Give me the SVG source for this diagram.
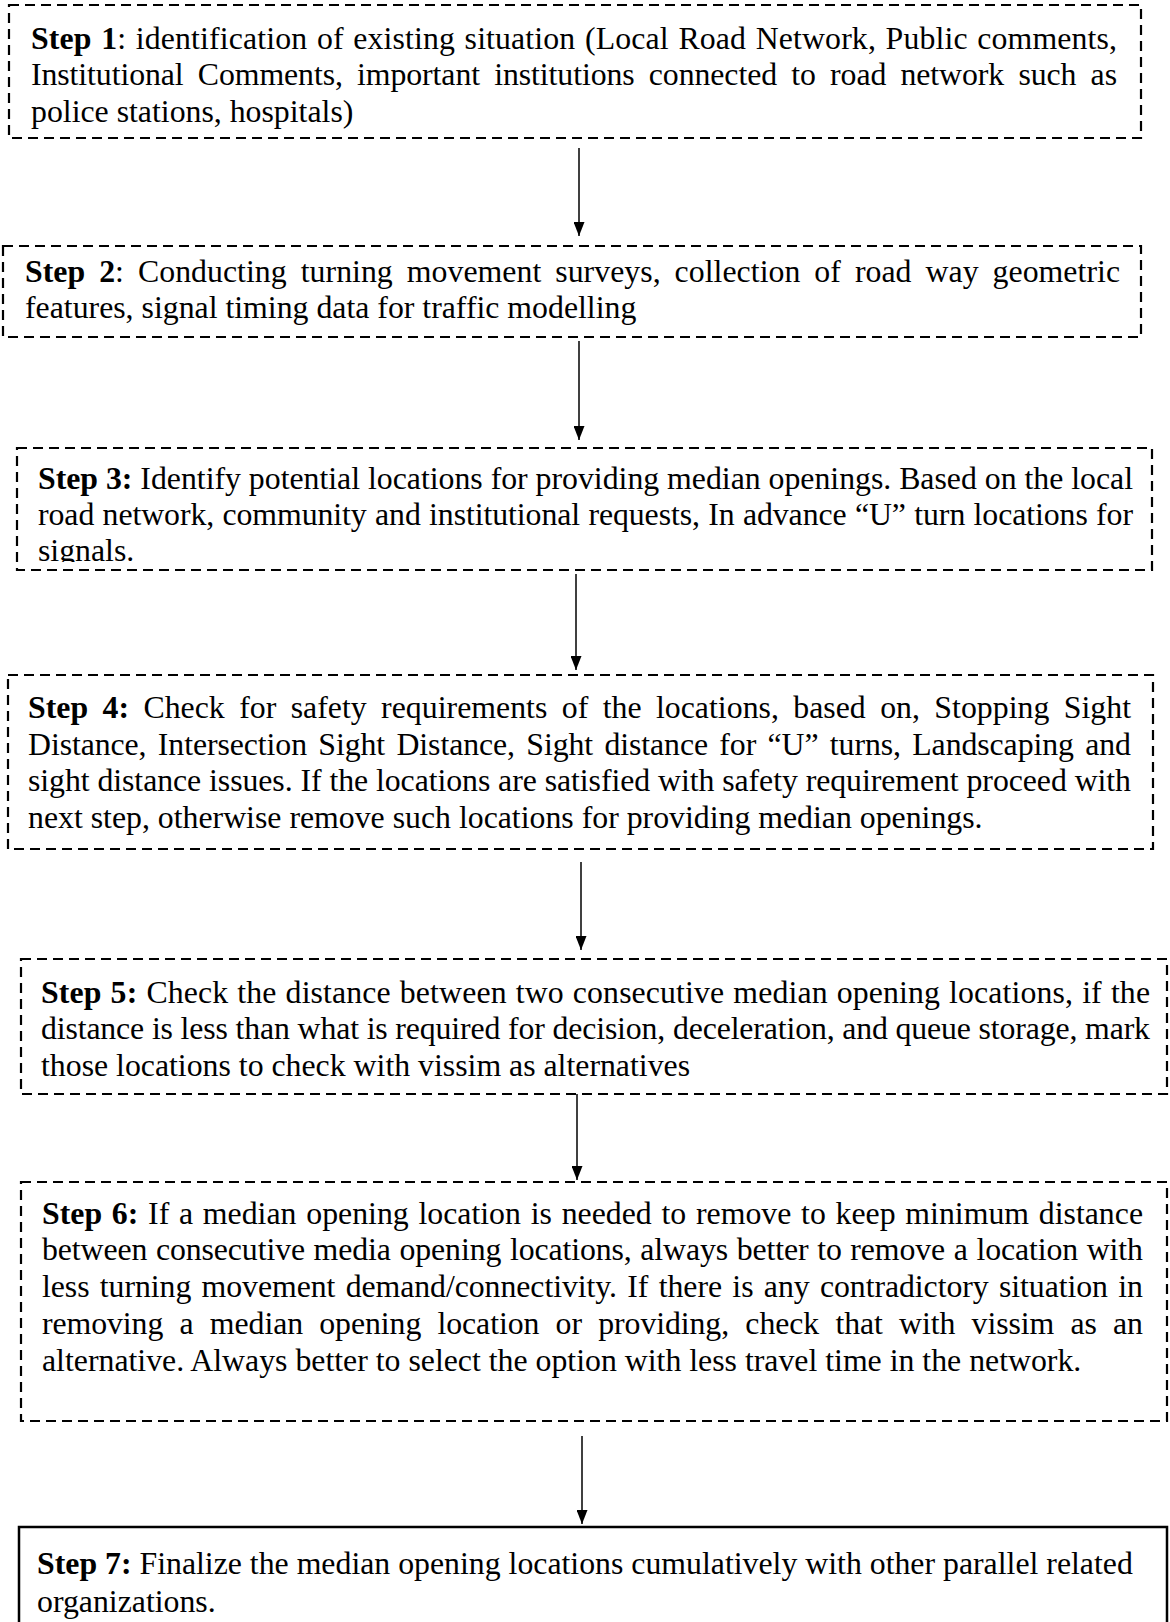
<svg xmlns="http://www.w3.org/2000/svg" width="1170" height="1622" viewBox="0 0 1170 1622">
<style>
  .box { fill: #ffffff; stroke: #000000; stroke-width: 2.2; stroke-dasharray: 10 6; }
  .solid { fill: #ffffff; stroke: #000000; stroke-width: 2.5; }
  .t { font-family: "Liberation Serif", "Times New Roman", serif; font-size: 31.8px; fill: #000000; }
  .b { font-weight: bold; }
  .conn { stroke: #000000; stroke-width: 1.5; fill: none; marker-end: url(#ah); }
</style>
<defs>
  <marker id="ah" viewBox="0 0 14 11" markerWidth="14" markerHeight="11" refX="14" refY="5.5" orient="auto" markerUnits="userSpaceOnUse">
    <path d="M0,0 L14,5.5 L0,11 Z" fill="#000000"/>
  </marker>
  <clipPath id="clip3"><rect x="17" y="448" width="1135" height="114"/></clipPath>
</defs>
<rect width="1170" height="1622" fill="#ffffff"/>

<g id="connectors">
  <line class="conn" x1="579" y1="148" x2="579" y2="236"/>
  <line class="conn" x1="579" y1="341" x2="579" y2="440"/>
  <line class="conn" x1="576" y1="574" x2="576" y2="670"/>
  <line class="conn" x1="581" y1="862" x2="581" y2="950"/>
  <line class="conn" x1="577" y1="1094" x2="577" y2="1180"/>
  <line class="conn" x1="582" y1="1436" x2="582" y2="1524"/>
</g>

<g id="step1">
  <rect class="box" x="9" y="5" width="1132" height="133"/>
  <text class="t" x="31" y="48.5" word-spacing="1.5" textLength="1086" lengthAdjust="spacing"><tspan class="b">Step 1</tspan>: identification of existing situation (Local Road Network, Public comments,</text>
  <text class="t" x="31" y="85" word-spacing="6.4" textLength="1086" lengthAdjust="spacing">Institutional Comments, important institutions connected to road network such as</text>
  <text class="t" x="31" y="121.5">police stations, hospitals)</text>
</g>

<g id="step2">
  <rect class="box" x="3" y="246" width="1138" height="91"/>
  <text class="t" x="25" y="281.5" word-spacing="6" textLength="1095" lengthAdjust="spacing"><tspan class="b">Step 2</tspan>: Conducting turning movement surveys, collection of road way geometric</text>
  <text class="t" x="25" y="317.5">features, signal timing data for traffic modelling</text>
</g>

<g id="step3">
  <rect class="box" x="17" y="448" width="1135" height="122"/>
  <text class="t" x="38" y="489" textLength="1095" lengthAdjust="spacing"><tspan class="b">Step 3:</tspan> Identify potential locations for providing median openings. Based on the local</text>
  <text class="t" x="38" y="525" word-spacing="0.5" textLength="1095" lengthAdjust="spacing">road network, community and institutional requests, In advance “U” turn locations for</text>
  <text class="t" x="38" y="561" clip-path="url(#clip3)">signals.</text>
</g>

<g id="step4">
  <rect class="box" x="8" y="675" width="1145" height="174"/>
  <text class="t" x="28" y="717.5" word-spacing="6.4" textLength="1103" lengthAdjust="spacing"><tspan class="b">Step 4:</tspan> Check for safety requirements of the locations, based on, Stopping Sight</text>
  <text class="t" x="28" y="754.5" word-spacing="3.5" textLength="1103" lengthAdjust="spacing">Distance, Intersection Sight Distance, Sight distance for “U” turns, Landscaping and</text>
  <text class="t" x="28" y="790.5" textLength="1103" lengthAdjust="spacing">sight distance issues. If the locations are satisfied with safety requirement proceed with</text>
  <text class="t" x="28" y="827.5">next step, otherwise remove such locations for providing median openings.</text>
</g>

<g id="step5">
  <rect class="box" x="21" y="959" width="1146" height="135"/>
  <text class="t" x="41" y="1003" word-spacing="1" textLength="1109" lengthAdjust="spacing"><tspan class="b">Step 5:</tspan> Check the distance between two consecutive median opening locations, if the</text>
  <text class="t" x="41" y="1039" textLength="1109" lengthAdjust="spacing">distance is less than what is required for decision, deceleration, and queue storage, mark</text>
  <text class="t" x="41" y="1076">those locations to check with vissim as alternatives</text>
</g>

<g id="step6">
  <rect class="box" x="21" y="1182" width="1146" height="239"/>
  <text class="t" x="42" y="1224" word-spacing="1.8" textLength="1101" lengthAdjust="spacing"><tspan class="b">Step 6:</tspan> If a median opening location is needed to remove to keep minimum distance</text>
  <text class="t" x="42" y="1260" word-spacing="0.8" textLength="1101" lengthAdjust="spacing">between consecutive media opening locations, always better to remove a location with</text>
  <text class="t" x="42" y="1297" word-spacing="2.5" textLength="1101" lengthAdjust="spacing">less turning movement demand/connectivity. If there is any contradictory situation in</text>
  <text class="t" x="42" y="1334" word-spacing="8.4" textLength="1101" lengthAdjust="spacing">removing a median opening location or providing, check that with vissim as an</text>
  <text class="t" x="42" y="1371">alternative. Always better to select the option with less travel time in the network.</text>
</g>

<g id="step7">
  <rect class="solid" x="19" y="1527" width="1148" height="120"/>
  <text class="t" x="37" y="1574"><tspan class="b">Step 7:</tspan> Finalize the median opening locations cumulatively with other parallel related</text>
  <text class="t" x="37" y="1612">organizations.</text>
</g>
</svg>
